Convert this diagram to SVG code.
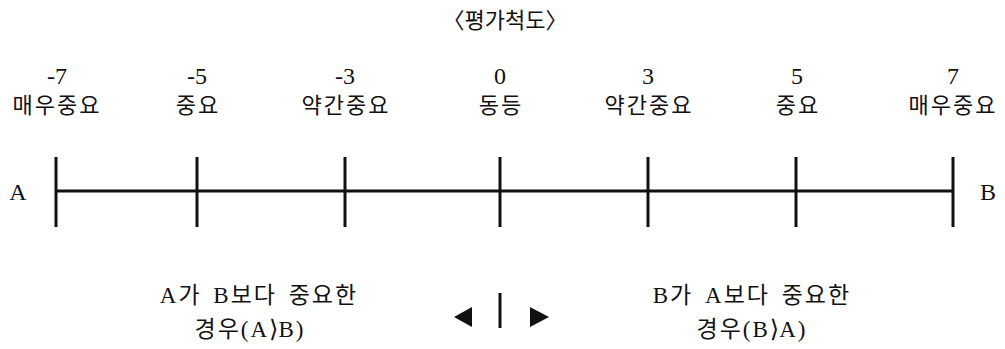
<svg xmlns="http://www.w3.org/2000/svg" width="1005" height="349" viewBox="0 0 1005 349">
<style>
text{font-family:"Liberation Serif","Noto Sans CJK KR",serif;fill:#111;text-anchor:middle}
.num{font-size:24px}
.lab{font-size:22px;letter-spacing:2px}
.ttl{font-size:22px}
.end{font-size:24px}
.cap{font-size:23px;letter-spacing:2px;word-spacing:4px}
.br{font-family:"DejaVu Sans",sans-serif;font-size:24px;letter-spacing:0}
.ax{stroke:#111;stroke-width:3;fill:none}
</style>
<rect width="1005" height="349" fill="#fff"/>
<g id="title"><text class="ttl" x="505" y="28">〈평가척도〉</text></g>
<g id="labels">
<text class="num" x="57" y="84">-7</text><text class="lab" x="57" y="113">매우중요</text>
<text class="num" x="197" y="84">-5</text><text class="lab" x="198" y="113">중요</text>
<text class="num" x="345" y="84">-3</text><text class="lab" x="346" y="113">약간중요</text>
<text class="num" x="500" y="84">0</text><text class="lab" x="501" y="113">동등</text>
<text class="num" x="648" y="84">3</text><text class="lab" x="649" y="113">약간중요</text>
<text class="num" x="797" y="84">5</text><text class="lab" x="798" y="113">중요</text>
<text class="num" x="953" y="84">7</text><text class="lab" x="953" y="113">매우중요</text>
</g>
<g id="nodeA"><text class="end" x="18" y="200">A</text></g>
<g id="nodeB"><text class="end" x="988" y="200">B</text></g>
<g id="connectors">
<line class="ax" x1="56" y1="191" x2="953" y2="191"/>
<line class="ax" x1="56" y1="157" x2="56" y2="227"/>
<line class="ax" x1="197" y1="157" x2="197" y2="227"/>
<line class="ax" x1="345" y1="157" x2="345" y2="227"/>
<line class="ax" x1="500" y1="157" x2="500" y2="227"/>
<line class="ax" x1="648" y1="157" x2="648" y2="227"/>
<line class="ax" x1="796" y1="157" x2="796" y2="227"/>
<line class="ax" x1="953" y1="157" x2="953" y2="227"/>
</g>
<g id="captionA"><text class="cap" x="259" y="303">A가 B보다 중요한</text><text class="cap" x="250" y="337">경우(A<tspan class="br">⟩</tspan>B)</text></g>
<g id="captionB"><text class="cap" x="752" y="303">B가 A보다 중요한</text><text class="cap" x="752" y="337">경우(B<tspan class="br">⟩</tspan>A)</text></g>
<g id="direction">
<polygon points="472,307 472,327 454,317" fill="#111"/>
<line class="ax" x1="500" y1="293" x2="500" y2="328"/>
<polygon points="530,307 530,327 549,317" fill="#111"/>
</g>
</svg>
